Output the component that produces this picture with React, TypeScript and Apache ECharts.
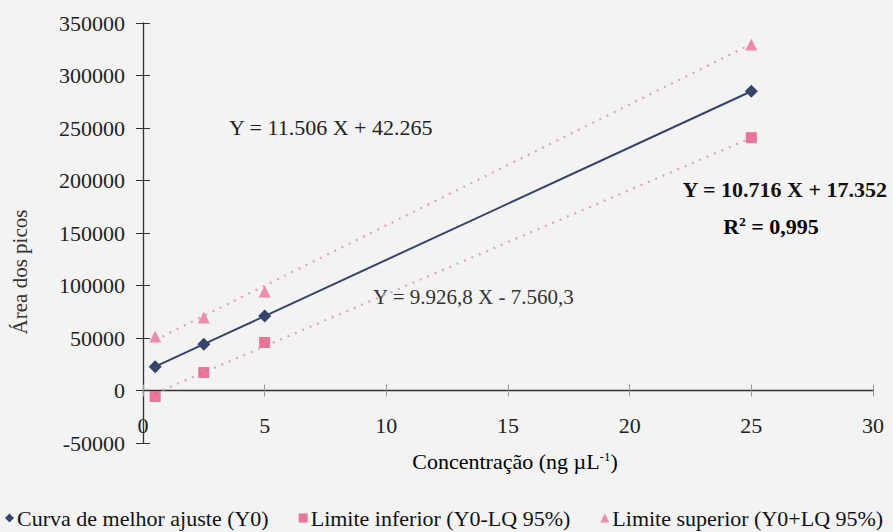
import React, { useEffect, useRef } from "react";
import * as echarts from "echarts";

// Concentrations (ng µL-1) and peak areas
const concentrations = [0.5, 2.5, 5, 25];
const fitted = [22700, 44100, 70900, 285000];
const lowerLimit = [-5700, 17100, 45700, 240800];
const upperLimit = [51400, 69500, 94200, 329500];

// Trend lines of the two limits: [slope, intercept]
const upperTrend = [11506, 42265];
const lowerTrend = [9926.8, -7560.3];
const trendRange = [0.5, 25];

const xTicks = [0, 30, 5];
const yTicks = [-50000, 350000, 50000];

const seriesNames = [
  "Curva de melhor ajuste (Y0)",
  "Limite inferior (Y0-LQ 95%)",
  "Limite superior (Y0+LQ 95%)",
];

const SERIF = "'Liberation Serif', 'DejaVu Serif', serif";
const NAVY = "#34446b";
const PINK = "#e4567f";
const PINK_LIGHT = "#ea7497";

const pairs = (xs: number[], ys: number[]) => xs.map((x, i) => [x, ys[i]]);
const trend = (c: number[]) => trendRange.map((x) => [x, c[0] * x + c[1]]);

export default function App() {
  const ref = useRef<HTMLDivElement>(null);

  useEffect(() => {
    if (!ref.current) return;
    const chart = echarts.init(ref.current, undefined, { renderer: "svg" });

    const line = { color: "#333", width: 1.3 };
    const xRange = { type: "value", min: xTicks[0], max: xTicks[1], interval: xTicks[2] };
    const yRange = { type: "value", min: yTicks[0], max: yTicks[1], interval: yTicks[2] };

    chart.setOption({
      animation: false,
      backgroundColor: "#f3f3f3",
      grid: { left: 143, right: 20, top: 23, bottom: 89 },
      legend: {
        left: 0,
        top: 502,
        itemWidth: 9,
        itemHeight: 9,
        itemGap: 30,
        textStyle: { fontFamily: SERIF, fontSize: 22, color: "#111", padding: [0, 0, 0, -2] },
        data: [
          { name: seriesNames[0], icon: "diamond" },
          { name: seriesNames[1], icon: "rect" },
          { name: seriesNames[2], icon: "triangle" },
        ],
      },
      xAxis: [
        {
          // tick labels, placed just above the bottom of the plot
          ...xRange,
          position: "bottom",
          axisLine: { show: false, onZero: false },
          axisTick: { show: false },
          splitLine: { show: false },
          axisLabel: { margin: -29, fontFamily: SERIF, fontSize: 22, color: "#222" },
        },
        {
          // axis line through y = 0, ticks above it
          ...xRange,
          position: "bottom",
          axisLine: { show: true, onZero: true, onZeroAxisIndex: 0, lineStyle: line },
          axisTick: { show: true, inside: true, length: 6, lineStyle: { color: "#999" } },
          splitLine: { show: false },
          axisLabel: { show: false },
        },
        {
          // ticks below the zero line
          ...xRange,
          position: "bottom",
          axisLine: { show: false, onZero: true, onZeroAxisIndex: 0 },
          axisTick: { show: true, inside: false, length: 6, lineStyle: { color: "#999" } },
          splitLine: { show: false },
          axisLabel: { show: false },
        },
      ],
      yAxis: [
        {
          ...yRange,
          axisLine: { show: true, onZero: false, lineStyle: line },
          axisTick: { show: true, length: 7, lineStyle: { color: "#333" } },
          splitLine: { show: false },
          axisLabel: {
            margin: 18,
            fontFamily: SERIF,
            fontSize: 22,
            color: "#222",
            formatter: (v: number) => String(v),
          },
        },
        {
          ...yRange,
          position: "left",
          axisLine: { show: false, onZero: false },
          axisTick: { show: true, inside: true, length: 7, lineStyle: { color: "#333" } },
          splitLine: { show: false },
          axisLabel: { show: false },
        },
      ],
      series: [
        {
          name: "upper-trend",
          type: "line",
          data: trend(upperTrend),
          symbol: "none",
          lineStyle: { color: "#d6a9b6", width: 2.2, type: [2, 6] },
          z: 1,
        },
        {
          name: "lower-trend",
          type: "line",
          data: trend(lowerTrend),
          symbol: "none",
          lineStyle: { color: "#d6a9b6", width: 2.2, type: [2, 6] },
          z: 1,
        },
        {
          name: seriesNames[0],
          type: "line",
          data: pairs(concentrations, fitted),
          symbol: "diamond",
          symbolSize: 13,
          itemStyle: { color: NAVY },
          lineStyle: { color: NAVY, width: 2 },
          z: 3,
        },
        {
          name: seriesNames[1],
          type: "scatter",
          data: pairs(concentrations, lowerLimit),
          symbol: "rect",
          symbolSize: 11,
          itemStyle: { color: PINK },
          z: 2,
        },
        {
          name: seriesNames[2],
          type: "scatter",
          data: pairs(concentrations, upperLimit),
          symbol: "triangle",
          symbolSize: 12,
          itemStyle: { color: PINK_LIGHT },
          z: 2,
        },
      ],
      graphic: [
        {
          type: "text",
          x: 20,
          y: 272,
          rotation: Math.PI / 2,
          style: {
            text: "Área dos picos",
            font: `21px ${SERIF}`,
            fill: "#333",
            align: "center",
            verticalAlign: "middle",
          },
        },
        {
          type: "text",
          x: 515,
          y: 461,
          style: {
            text: "{b|Concentração (ng µL}{s|-1}{b|)}",
            align: "center",
            verticalAlign: "middle",
            rich: {
              b: { fontFamily: SERIF, fontSize: 22, color: "#111" },
              s: { fontFamily: SERIF, fontSize: 13, color: "#111", verticalAlign: "top", padding: [0, 0, 10, 0] },
            },
          },
        },
        {
          type: "text",
          x: 229,
          y: 127,
          style: {
            text: "Y = 11.506 X + 42.265",
            font: `22px ${SERIF}`,
            fill: "#222",
            verticalAlign: "middle",
          },
        },
        {
          type: "text",
          x: 373,
          y: 297,
          style: {
            text: "Y = 9.926,8 X - 7.560,3",
            font: `21px ${SERIF}`,
            fill: "#333",
            verticalAlign: "middle",
          },
        },
        {
          type: "text",
          x: 887,
          y: 189,
          style: {
            text: "Y = 10.716 X + 17.352",
            font: `bold 22px ${SERIF}`,
            fill: "#111",
            align: "right",
            verticalAlign: "middle",
          },
        },
        {
          type: "text",
          x: 771,
          y: 226,
          style: {
            text: "{b|R}{s|2}{b| = 0,995}",
            align: "center",
            verticalAlign: "middle",
            rich: {
              b: { fontFamily: SERIF, fontWeight: "bold", fontSize: 22, color: "#111" },
              s: { fontFamily: SERIF, fontWeight: "bold", fontSize: 13, color: "#111", verticalAlign: "top", padding: [0, 0, 10, 0] },
            },
          },
        },
      ],
    });

    return () => chart.dispose();
  }, []);

  return (
    <div
      ref={ref}
      style={{ position: "fixed", left: 0, top: 0, width: 893, height: 532 }}
    />
  );
}
